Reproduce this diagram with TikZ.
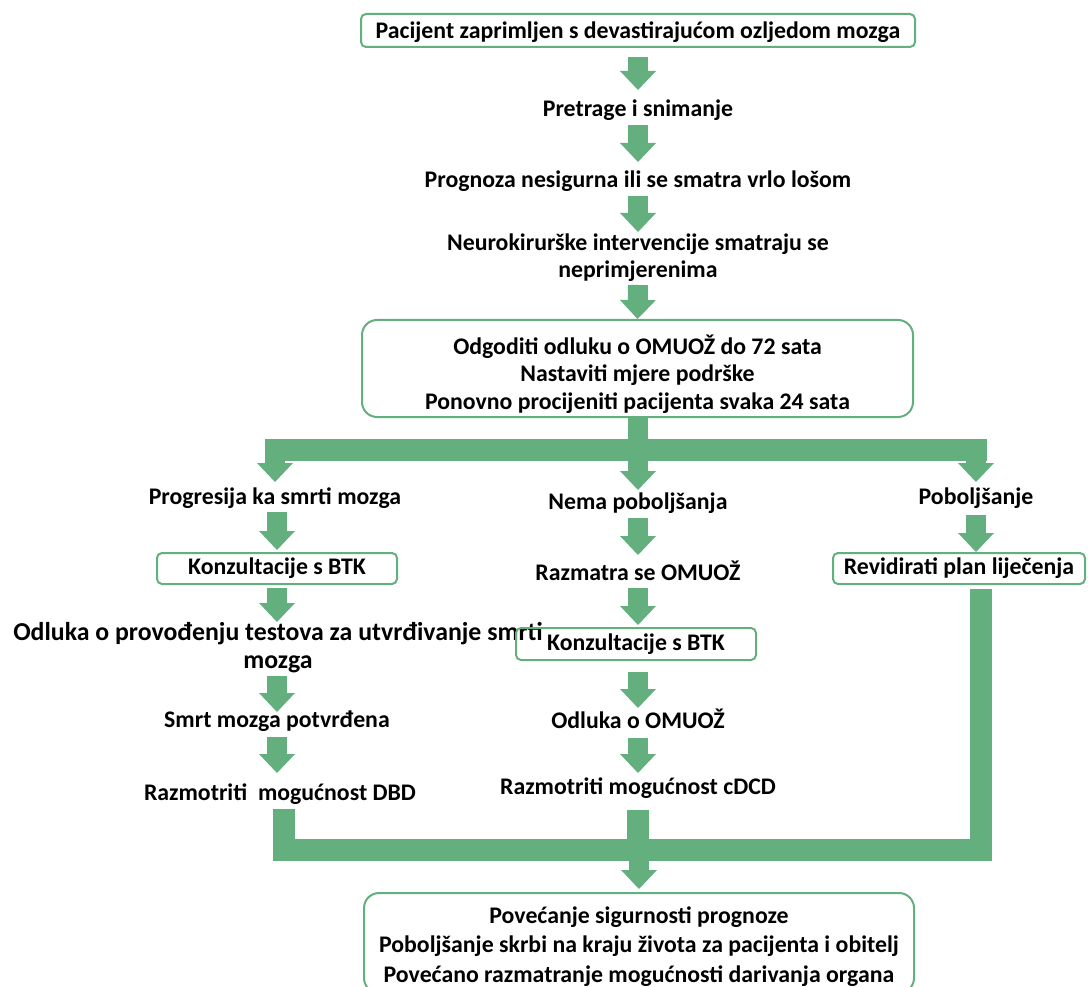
\documentclass[tikz,border=0pt]{standalone}
\usepackage{fontspec}
\setmainfont{Carlito}
\usetikzlibrary{arrows.meta}
\definecolor{gr}{RGB}{99,176,126}
\begin{document}
\begin{tikzpicture}[x=1pt,y=-1pt,
  txt/.style={font=\fontsize{23.8}{27}\selectfont\bfseries, align=center, inner sep=0pt, text=black},
  box/.style={txt, draw=gr, line width=2pt, rounded corners=5pt},
  bigbox/.style={draw=gr, line width=2pt, rounded corners=15pt, inner sep=0pt},
  bigarrow/.style={draw=gr, line width=20pt, -{Triangle[width=36pt,length=19pt,line width=0pt]}},
  bar/.style={draw=gr, line width=22pt, line join=miter}]
\useasboundingbox (0,0) rectangle (1088,987);

% main column
\node[box, minimum width=554pt, minimum height=33pt, text depth=0.5pt] (top) at (638,30.5) {Pacijent zaprimljen s devastirajućom ozljedom mozga};
\node[txt] (pret) at (638,110) {Pretrage i snimanje};
\node[txt] (prog) at (638,181) {Prognoza nesigurna ili se smatra vrlo lošom};
\node[txt] (neuro) at (638,258) {Neurokirurške intervencije smatraju se\\neprimjerenima};
\node[bigbox, minimum width=551pt, minimum height=97pt] (box2) at (637.5,368.5) {};
\node[txt, font=\fontsize{23.8}{27.5}\selectfont\bfseries] (box2t) at (637.5,374) {Odgoditi odluku o OMUOŽ do 72 sata\\Nastaviti mjere podrške\\Ponovno procijeniti pacijenta svaka 24 sata};

% branches
\node[txt] (pr1) at (275,498) {Progresija ka smrti mozga};
\node[txt] (nema) at (638,503) {Nema poboljšanja};
\node[txt] (pob) at (976,498) {Poboljšanje};

% left
\node[box, minimum width=240pt, minimum height=31pt] (kon1) at (277,568.5) {Konzultacije s BTK};
\node[txt, font=\fontsize{25.8}{27.5}\selectfont\bfseries] (odl1) at (278,647.5) {Odluka o provođenju testova za utvrđivanje smrti\\mozga};
\node[txt] (smrt) at (277,721) {Smrt mozga potvrđena};
\node[txt] (dbd) at (280,794) {Razmotriti\ \ mogućnost DBD};

% centre
\node[txt] (razm) at (638,571) {Razmatra se OMUOŽ};
\node[box, minimum width=240pt, minimum height=32pt] (kon2) at (636,644) {Konzultacije s BTK};
\node[txt] (odl2) at (638,719) {Odluka o OMUOŽ};
\node[txt] (cdcd) at (638,788) {Razmotriti mogućnost cDCD};

% right
\node[box, minimum width=252pt, minimum height=31pt] (rev) at (959,568.5) {Revidirati plan liječenja};

% bottom
\node[bigbox, minimum width=550pt, minimum height=100pt] (bot) at (639,943) {};
\node[txt, font=\fontsize{23.8}{29.5}\selectfont\bfseries] (bott) at (639,946.5) {Povećanje sigurnosti prognoze\\Poboljšanje skrbi na kraju života za pacijenta i obitelj\\Povećano razmatranje mogućnosti darivanja organa};

% arrows main
\draw[bigarrow] (top.south |- 0,57) -- (pret.north |- 0,90);
\draw[bigarrow] (pret.south |- 0,125) -- (prog.north |- 0,162);
\draw[bigarrow] (prog.south |- 0,196) -- (neuro.north |- 0,232);
\draw[bigarrow] (neuro.south |- 0,285) -- (box2.north |- 0,319);

% split
\draw[bar] (265,449.5) -- (987,449.5);
\draw[bigarrow] (box2.south -| nema.north) -- (nema.north |- 0,490);
\draw[bigarrow] (pr1.north |- 0,449.5) -- (pr1.north |- 0,482);
\draw[bigarrow] (pob.north |- 0,449.5) -- (pob.north |- 0,482);

% left column
\draw[bigarrow] (kon1.north |- 0,512) -- (kon1.north |- 0,550);
\draw[bigarrow] (kon1.south |- 0,588) -- (kon1.south |- 0,622);
\draw[bigarrow] (smrt.north |- 0,676) -- (smrt.north |- 0,712);
\draw[bigarrow] (smrt.south |- 0,737) -- (smrt.south |- 0,773);

% centre column
\draw[bigarrow] (razm.north |- 0,518) -- (razm.north |- 0,555);
\draw[bigarrow] (razm.south |- 0,588) -- (razm.south |- 0,625);
\draw[bigarrow] (odl2.north |- 0,672) -- (odl2.north |- 0,708);
\draw[bigarrow] (odl2.south |- 0,738) -- (odl2.south |- 0,773);

% right column
\draw[bigarrow] (pob.south |- 0,515) -- (pob.south |- 0,552);

% merge
\draw[bar] (283.5,809) |- (981,850) -- (981,589);
\draw[bar] (cdcd.south |- 0,810) -- (cdcd.south |- 0,850);
\draw[bigarrow] (bot.north |- 0,849) -- (bot.north |- 0,889);
\end{tikzpicture}
\end{document}
